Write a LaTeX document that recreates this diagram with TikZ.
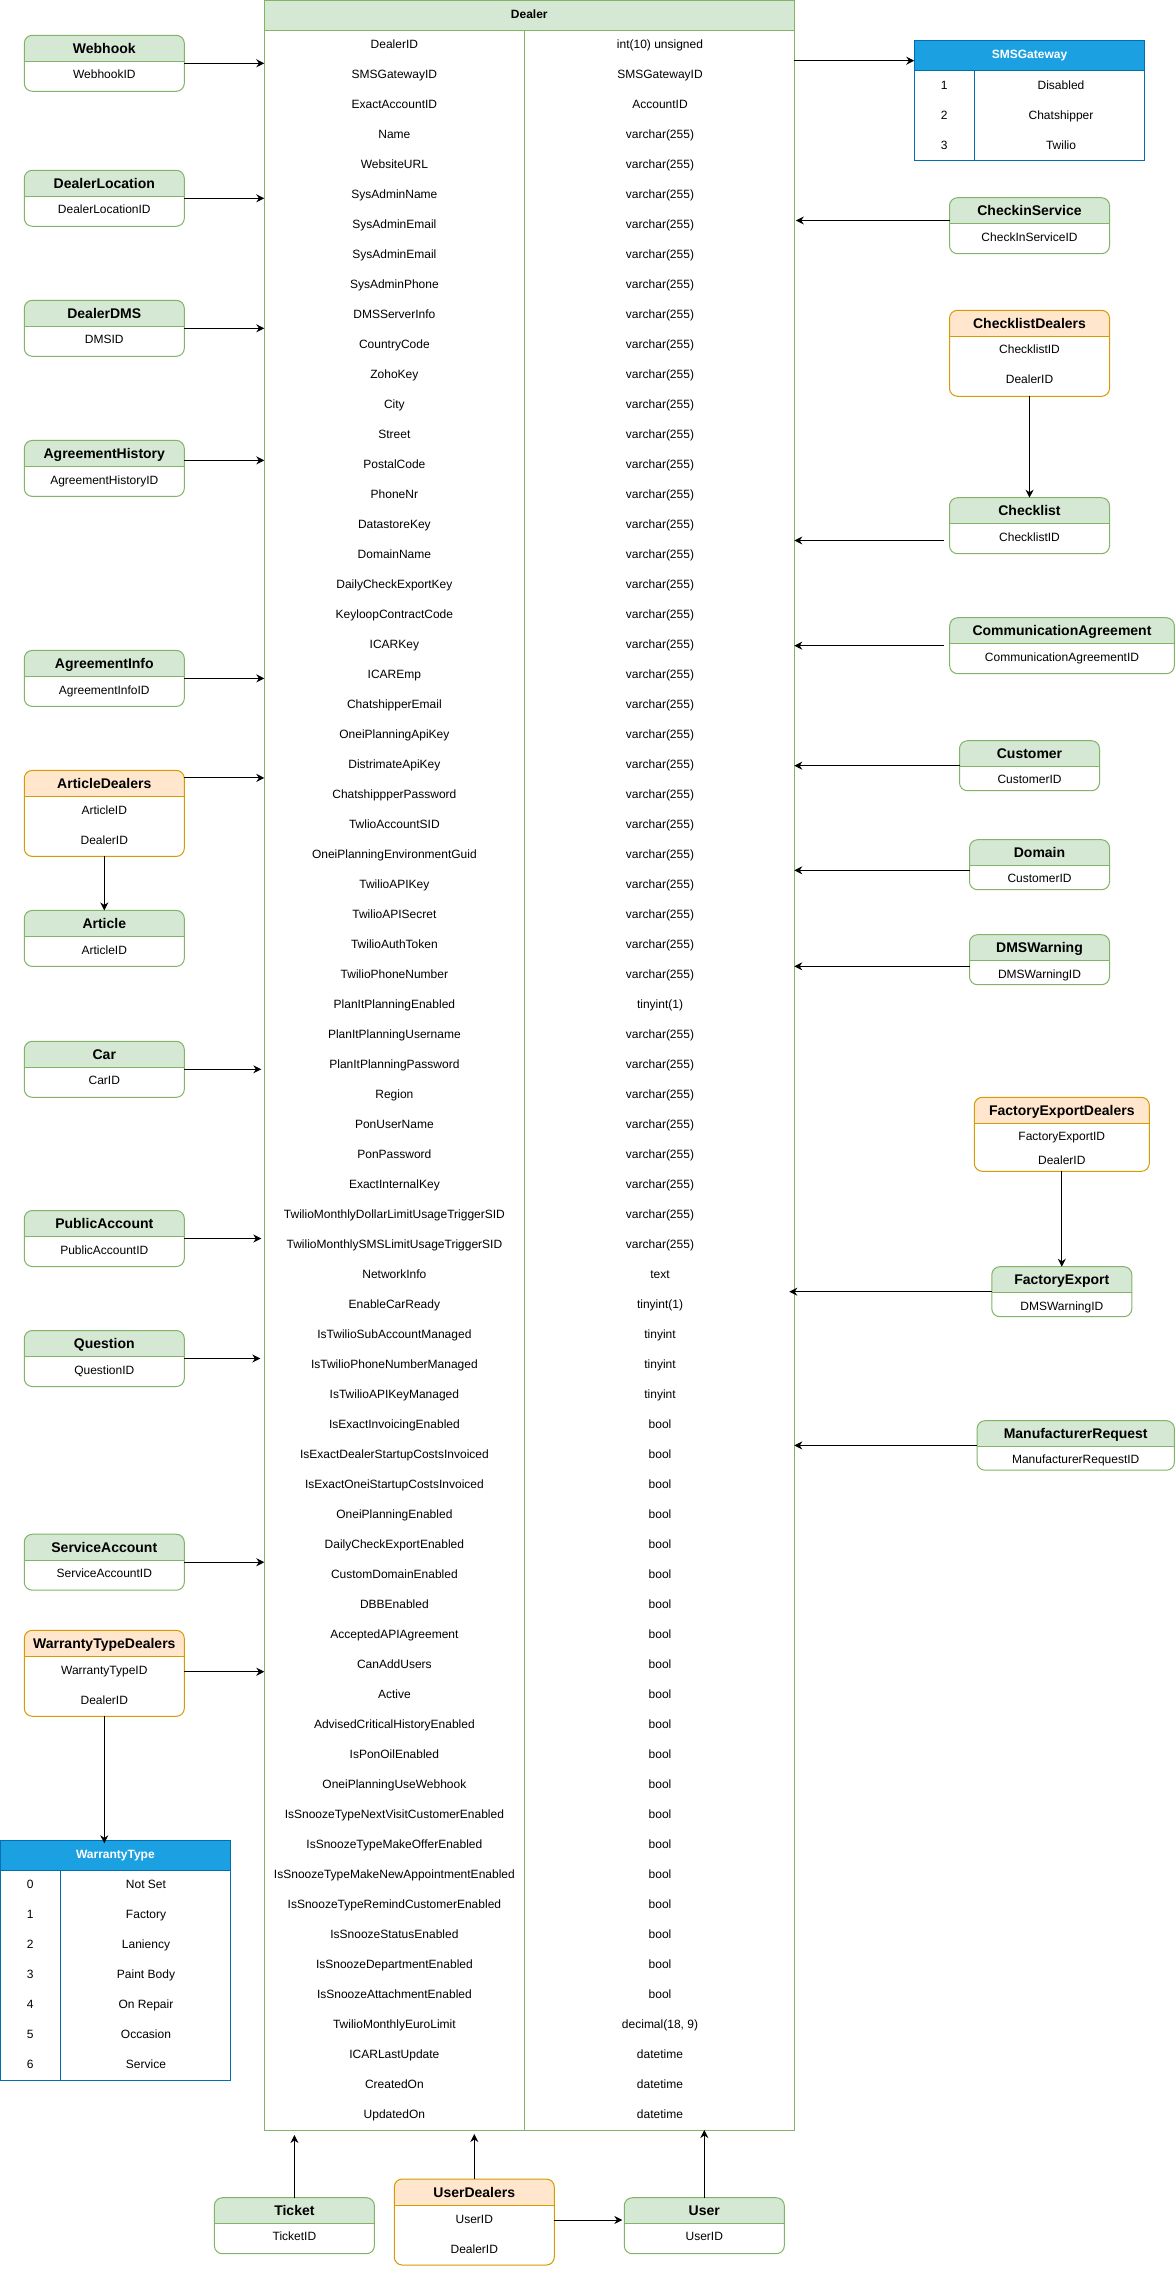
\documentclass[tikz,border=0pt]{standalone}
\usepackage{fontspec}
\setmainfont{Liberation Sans}
\usetikzlibrary{arrows.meta}
\definecolor{grfill}{HTML}{D5E8D4}
\definecolor{grstroke}{HTML}{82B366}
\definecolor{orfill}{HTML}{FFE6CC}
\definecolor{orstroke}{HTML}{D79B00}
\definecolor{blfill}{HTML}{1BA1E2}
\definecolor{blstroke}{HTML}{006EAF}
\tikzset{
  entbox/.style={rectangle, rounded corners=8pt, draw=#1stroke, fill=white, line width=1pt, inner sep=0pt, outer sep=0pt,
    path picture={\fill[#1fill, sharp corners] (path picture bounding box.north west) rectangle ([yshift=-26pt]path picture bounding box.north east);
      \draw[#1stroke, line width=1pt, sharp corners] ([yshift=-26pt]path picture bounding box.north west) -- ([yshift=-26pt]path picture bounding box.north east);}},
  ttl/.style={font=\bfseries\fontsize{14}{16}\selectfont, inner sep=0pt, text height=10pt, text depth=3pt},
  rowtxt/.style={font=\fontsize{12}{14}\selectfont, inner sep=0pt, text height=8.6pt, text depth=2.4pt},
  hdrtxt/.style={font=\bfseries\fontsize{12}{14}\selectfont, inner sep=0pt, text height=8.6pt, text depth=2.4pt},
  tblbox/.style={draw=#1, line width=1pt, inner sep=0pt, outer sep=0pt},
  arr/.style={-{Stealth[length=8pt,width=8pt,inset=2.6pt]}, line width=1pt, black},
}
\newcommand{\ent}[7]{%
  \node[entbox=#6, minimum width=#4, minimum height=#5] (#1) at (#2,{#3+#5/2}) {};
  \node[ttl] (#1-t) at (#2,{#3+14.5}) {#7};}
\newcommand{\erow}[4]{\node[rowtxt] (#1) at (#2,#3) {#4};}
\newcommand{\drow}[3]{%
  \node[rowtxt] (dl#1) at (394.4,{15.7+30*#1}) {#2};
  \node[rowtxt] (dr#1) at (660,{15.7+30*#1}) {#3};}
\begin{document}
\begin{tikzpicture}[x=1pt,y=-1pt]
\fill[white] (0,0) rectangle (1175,2269);
\useasboundingbox (0,0) rectangle (1175,2269);

% ---------------- Dealer table ----------------
\node[tblbox=grstroke, fill=white, minimum width=530, minimum height=2129.5] (dealer) at (529.3,1065.25) {};
\node[tblbox=grstroke, fill=grfill, minimum width=530, minimum height=30.2, hdrtxt] (dealerhdr) at (529.3,15.6) {Dealer};
\draw[grstroke, line width=1pt] (524.5,30.7) -- (524.5,2130);
\drow{1}{DealerID}{int(10) unsigned}
\drow{2}{SMSGatewayID}{SMSGatewayID}
\drow{3}{ExactAccountID}{AccountID}
\drow{4}{Name}{varchar(255)}
\drow{5}{WebsiteURL}{varchar(255)}
\drow{6}{SysAdminName}{varchar(255)}
\drow{7}{SysAdminEmail}{varchar(255)}
\drow{8}{SysAdminEmail}{varchar(255)}
\drow{9}{SysAdminPhone}{varchar(255)}
\drow{10}{DMSServerInfo}{varchar(255)}
\drow{11}{CountryCode}{varchar(255)}
\drow{12}{ZohoKey}{varchar(255)}
\drow{13}{City}{varchar(255)}
\drow{14}{Street}{varchar(255)}
\drow{15}{PostalCode}{varchar(255)}
\drow{16}{PhoneNr}{varchar(255)}
\drow{17}{DatastoreKey}{varchar(255)}
\drow{18}{DomainName}{varchar(255)}
\drow{19}{DailyCheckExportKey}{varchar(255)}
\drow{20}{KeyloopContractCode}{varchar(255)}
\drow{21}{ICARKey}{varchar(255)}
\drow{22}{ICAREmp}{varchar(255)}
\drow{23}{ChatshipperEmail}{varchar(255)}
\drow{24}{OneiPlanningApiKey}{varchar(255)}
\drow{25}{DistrimateApiKey}{varchar(255)}
\drow{26}{ChatshippperPassword}{varchar(255)}
\drow{27}{TwlioAccountSID}{varchar(255)}
\drow{28}{OneiPlanningEnvironmentGuid}{varchar(255)}
\drow{29}{TwilioAPIKey}{varchar(255)}
\drow{30}{TwilioAPISecret}{varchar(255)}
\drow{31}{TwilioAuthToken}{varchar(255)}
\drow{32}{TwilioPhoneNumber}{varchar(255)}
\drow{33}{PlanItPlanningEnabled}{tinyint(1)}
\drow{34}{PlanItPlanningUsername}{varchar(255)}
\drow{35}{PlanItPlanningPassword}{varchar(255)}
\drow{36}{Region}{varchar(255)}
\drow{37}{PonUserName}{varchar(255)}
\drow{38}{PonPassword}{varchar(255)}
\drow{39}{ExactInternalKey}{varchar(255)}
\drow{40}{TwilioMonthlyDollarLimitUsageTriggerSID}{varchar(255)}
\drow{41}{TwilioMonthlySMSLimitUsageTriggerSID}{varchar(255)}
\drow{42}{NetworkInfo}{text}
\drow{43}{EnableCarReady}{tinyint(1)}
\drow{44}{IsTwilioSubAccountManaged}{tinyint}
\drow{45}{IsTwilioPhoneNumberManaged}{tinyint}
\drow{46}{IsTwilioAPIKeyManaged}{tinyint}
\drow{47}{IsExactInvoicingEnabled}{bool}
\drow{48}{IsExactDealerStartupCostsInvoiced}{bool}
\drow{49}{IsExactOneiStartupCostsInvoiced}{bool}
\drow{50}{OneiPlanningEnabled}{bool}
\drow{51}{DailyCheckExportEnabled}{bool}
\drow{52}{CustomDomainEnabled}{bool}
\drow{53}{DBBEnabled}{bool}
\drow{54}{AcceptedAPIAgreement}{bool}
\drow{55}{CanAddUsers}{bool}
\drow{56}{Active}{bool}
\drow{57}{AdvisedCriticalHistoryEnabled}{bool}
\drow{58}{IsPonOilEnabled}{bool}
\drow{59}{OneiPlanningUseWebhook}{bool}
\drow{60}{IsSnoozeTypeNextVisitCustomerEnabled}{bool}
\drow{61}{IsSnoozeTypeMakeOfferEnabled}{bool}
\drow{62}{IsSnoozeTypeMakeNewAppointmentEnabled}{bool}
\drow{63}{IsSnoozeTypeRemindCustomerEnabled}{bool}
\drow{64}{IsSnoozeStatusEnabled}{bool}
\drow{65}{IsSnoozeDepartmentEnabled}{bool}
\drow{66}{IsSnoozeAttachmentEnabled}{bool}
\drow{67}{TwilioMonthlyEuroLimit}{decimal(18, 9)}
\drow{68}{ICARLastUpdate}{datetime}
\drow{69}{CreatedOn}{datetime}
\drow{70}{UpdatedOn}{datetime}

% ---------------- SMSGateway table ----------------
\node[tblbox=blstroke, fill=white, minimum width=230.4, minimum height=119.6] (smsgw) at (1029.5,100.5) {};
\node[tblbox=blstroke, fill=blfill, minimum width=230.4, minimum height=30, hdrtxt, text=white] (smsgwhdr) at (1029.5,55.7) {SMSGateway};
\draw[blstroke, line width=1pt] (974.3,70.7) -- (974.3,160.3);
\erow{sms-n1}{944.3}{86}{1}
\erow{sms-v1}{1061}{86}{Disabled}
\erow{sms-n2}{944.3}{116}{2}
\erow{sms-v2}{1061}{116}{Chatshipper}
\erow{sms-n3}{944.3}{146}{3}
\erow{sms-v3}{1061}{146}{Twilio}

% ---------------- WarrantyType table ----------------
\node[tblbox=blstroke, fill=white, minimum width=229.8, minimum height=240] (wt) at (115.4,1960.3) {};
\node[tblbox=blstroke, fill=blfill, minimum width=229.8, minimum height=30, hdrtxt, text=white] (wthdr) at (115.4,1855.3) {WarrantyType};
\draw[blstroke, line width=1pt] (60.3,1870.3) -- (60.3,2080.3);
\erow{wt-n0}{30.3}{1885.6}{0}
\erow{wt-v0}{146}{1885.6}{Not Set}
\erow{wt-n1}{30.3}{1915.6}{1}
\erow{wt-v1}{146}{1915.6}{Factory}
\erow{wt-n2}{30.3}{1945.6}{2}
\erow{wt-v2}{146}{1945.6}{Laniency}
\erow{wt-n3}{30.3}{1975.6}{3}
\erow{wt-v3}{146}{1975.6}{Paint Body}
\erow{wt-n4}{30.3}{2005.6}{4}
\erow{wt-v4}{146}{2005.6}{On Repair}
\erow{wt-n5}{30.3}{2035.6}{5}
\erow{wt-v5}{146}{2035.6}{Occasion}
\erow{wt-n6}{30.3}{2065.6}{6}
\erow{wt-v6}{146}{2065.6}{Service}

% ---------------- Left entities ----------------
\ent{webhook}{104.3}{35.3}{160}{56}{gr}{Webhook}
\erow{webhook-1}{104.3}{75.8}{WebhookID}
\ent{dealerlocation}{104.3}{170.3}{160}{56}{gr}{DealerLocation}
\erow{dealerlocation-1}{104.3}{210.8}{DealerLocationID}
\ent{dealerdms}{104.3}{300.3}{160}{56}{gr}{DealerDMS}
\erow{dealerdms-1}{104.3}{340.8}{DMSID}
\ent{agreementhistory}{104.3}{440.4}{160}{56}{gr}{AgreementHistory}
\erow{agreementhistory-1}{104.3}{480.9}{AgreementHistoryID}
\ent{agreementinfo}{104.3}{650.4}{160}{56}{gr}{AgreementInfo}
\erow{agreementinfo-1}{104.3}{690.9}{AgreementInfoID}
\ent{articledealers}{104.3}{770.4}{160}{86}{or}{ArticleDealers}
\erow{articledealers-1}{104.3}{811}{ArticleID}
\erow{articledealers-2}{104.3}{841}{DealerID}
\ent{article}{104.3}{910.4}{160}{56}{gr}{Article}
\erow{article-1}{104.3}{950.9}{ArticleID}
\ent{car}{104.3}{1041.3}{160}{56}{gr}{Car}
\erow{car-1}{104.3}{1081.8}{CarID}
\ent{publicaccount}{104.3}{1210.5}{160}{56}{gr}{PublicAccount}
\erow{publicaccount-1}{104.3}{1251}{PublicAccountID}
\ent{question}{104.3}{1330.5}{160}{56}{gr}{Question}
\erow{question-1}{104.3}{1371}{QuestionID}
\ent{serviceaccount}{104.3}{1534.2}{160}{56}{gr}{ServiceAccount}
\erow{serviceaccount-1}{104.3}{1574.7}{ServiceAccountID}
\ent{warrantytypedealers}{104.3}{1630.3}{160}{86}{or}{WarrantyTypeDealers}
\erow{warrantytypedealers-1}{104.3}{1671}{WarrantyTypeID}
\erow{warrantytypedealers-2}{104.3}{1701}{DealerID}

% ---------------- Right entities ----------------
\ent{checkin}{1029.5}{197.7}{160}{56}{gr}{CheckinService}
\erow{checkin-1}{1029.5}{238.2}{CheckInServiceID}
\ent{checklistdealers}{1029.5}{310.3}{160}{86}{or}{ChecklistDealers}
\erow{checklistdealers-1}{1029.5}{350.8}{ChecklistID}
\erow{checklistdealers-2}{1029.5}{380.8}{DealerID}
\ent{checklist}{1029.5}{497.7}{160}{56}{gr}{Checklist}
\erow{checklist-1}{1029.5}{538.2}{ChecklistID}
\ent{commagr}{1062}{617.7}{224.6}{56}{gr}{CommunicationAgreement}
\erow{commagr-1}{1062}{658.2}{CommunicationAgreementID}
\ent{customer}{1029.5}{740.7}{140}{50}{gr}{Customer}
\erow{customer-1}{1029.5}{780.6}{CustomerID}
\ent{domain}{1039.5}{839.7}{140}{50}{gr}{Domain}
\erow{domain-1}{1039.5}{879.8}{CustomerID}
\ent{dmswarning}{1039.5}{934.7}{140}{50}{gr}{DMSWarning}
\erow{dmswarning-1}{1039.5}{975}{DMSWarningID}
\ent{factexpdealers}{1061.8}{1097.3}{175}{74}{or}{FactoryExportDealers}
\erow{factexpdealers-1}{1061.8}{1137.7}{FactoryExportID}
\erow{factexpdealers-2}{1061.8}{1161.5}{DealerID}
\ent{factexp}{1061.8}{1266.7}{140}{50}{gr}{FactoryExport}
\erow{factexp-1}{1061.8}{1307}{DMSWarningID}
\ent{manureq}{1075.7}{1420.7}{197.3}{49.5}{gr}{ManufacturerRequest}
\erow{manureq-1}{1075.7}{1460.5}{ManufacturerRequestID}

% ---------------- Bottom entities ----------------
\ent{ticket}{294.4}{2197.7}{160}{56}{gr}{Ticket}
\erow{ticket-1}{294.4}{2237.8}{TicketID}
\ent{userdealers}{474.3}{2179}{160}{86}{or}{UserDealers}
\erow{userdealers-1}{474.3}{2220}{UserID}
\erow{userdealers-2}{474.3}{2250}{DealerID}
\ent{user}{704.3}{2197.7}{160}{56}{gr}{User}
\erow{user-1}{704.3}{2237.8}{UserID}

% ---------------- Ports ----------------
\coordinate (pAH) at ([yshift=8pt]agreementhistory.east);
\coordinate (pAD) at ([yshift=-7.5pt]articledealers.north east);
\coordinate (pWTD) at ([yshift=1.6pt]warrantytypedealers.east);
\coordinate (pSMS) at ([yshift=-20pt]smsgw.north west);
\coordinate (pCI) at ([yshift=5.2pt]checkin.west);
\coordinate (pCL) at ([yshift=-14.8pt]checklist.west);
\coordinate (pDom) at ([yshift=-5.6pt]domain.west);
\coordinate (pDMS) at ([yshift=-6.6pt]dmswarning.west);
\coordinate (pUD) at ([yshift=2pt]userdealers.east);

% ---------------- Connectors: left ----------------
\draw[arr] (webhook.east) -- (webhook.east -| dealer.west);
\draw[arr] (dealerlocation.east) -- (dealerlocation.east -| dealer.west);
\draw[arr] (dealerdms.east) -- (dealerdms.east -| dealer.west);
\draw[arr] (pAH) -- (pAH -| dealer.west);
\draw[arr] (agreementinfo.east) -- (agreementinfo.east -| dealer.west);
\draw[arr] (pAD) -- (pAD -| dealer.west);
\draw[arr] (articledealers.south) -- (article.north);
\draw[arr, shorten >=3pt] (car.east) -- (car.east -| dealer.west);
\draw[arr, shorten >=3pt] (publicaccount.east) -- (publicaccount.east -| dealer.west);
\draw[arr, shorten >=4pt] (question.east) -- (question.east -| dealer.west);
\draw[arr] (serviceaccount.east) -- (serviceaccount.east -| dealer.west);
\draw[arr] (pWTD) -- (pWTD -| dealer.west);
\draw[arr, shorten >=-3pt] (warrantytypedealers.south) -- (warrantytypedealers.south |- wthdr.north);

% ---------------- Connectors: right ----------------
\draw[arr] (pSMS -| dealer.east) -- (pSMS);
\draw[arr, shorten >=1.5pt] (pCI) -- (pCI -| dealer.east);
\draw[arr] (checklistdealers.south) -- (checklist.north);
\draw[arr, shorten <=5.5pt] (pCL) -- (pCL -| dealer.east);
\draw[arr, shorten <=5.5pt] (commagr.west) -- (commagr.west -| dealer.east);
\draw[arr] (customer.west) -- (customer.west -| dealer.east);
\draw[arr] (pDom) -- (pDom -| dealer.east);
\draw[arr] (pDMS) -- (pDMS -| dealer.east);
\draw[arr] (factexpdealers.south) -- (factexp.north);
\draw[arr, shorten >=-5pt] (factexp.west) -- (factexp.west -| dealer.east);
\draw[arr] (manureq.west) -- (manureq.west -| dealer.east);

% ---------------- Connectors: bottom ----------------
\draw[arr, shorten >=5pt] (ticket.north) -- (ticket.north |- dealer.south);
\draw[arr, shorten >=4pt] (userdealers.north) -- (userdealers.north |- dealer.south);
\draw[arr] (user.north) -- (user.north |- dealer.south);
\draw[arr, shorten >=2pt] (pUD) -- (pUD -| user.west);
\end{tikzpicture}
\end{document}
